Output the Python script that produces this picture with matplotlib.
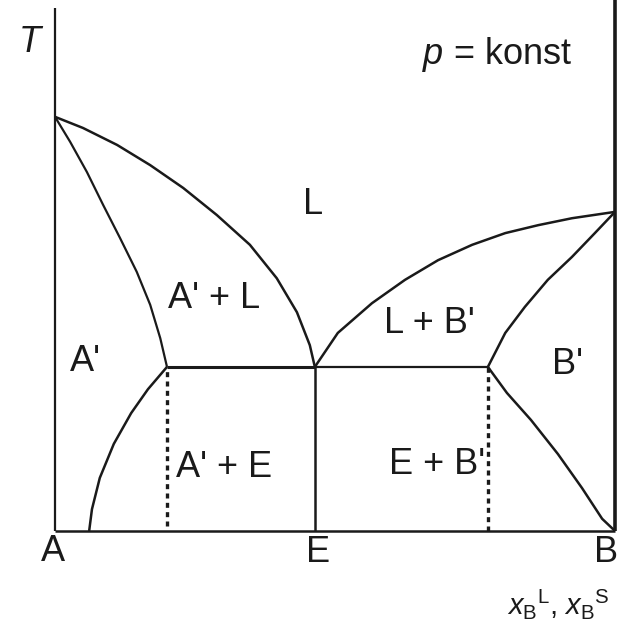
import matplotlib
matplotlib.use("Agg")
import matplotlib.pyplot as plt

plt.rcParams['font.family'] = ['Liberation Sans', 'DejaVu Sans']
plt.rcParams['mathtext.fontset'] = 'custom'
plt.rcParams['mathtext.rm'] = 'Liberation Sans'
plt.rcParams['mathtext.it'] = 'Liberation Sans:italic'

# composition x_B (0 = A, 1 = B) and temperature T (arbitrary units)
T_eut = 30.9
x_eut = 0.464
x_a_eut = 0.200   # A' solid solution limit at eutectic
x_b_eut = 0.773   # B' solid solution limit at eutectic

liq_left_x = [0.0, 0.050, 0.111, 0.170, 0.229, 0.289, 0.348, 0.396, 0.432, 0.455, 0.464]
liq_left_T = [78.0, 75.9, 72.7, 68.9, 64.6, 59.5, 53.9, 47.6, 41.2, 35.0, 30.9]

sol_left_x = [0.0, 0.027, 0.057, 0.086, 0.116, 0.146, 0.170, 0.188, 0.200]
sol_left_T = [78.0, 73.3, 67.6, 61.4, 55.2, 48.8, 42.6, 36.3, 30.9]

solv_left_x = [0.200, 0.166, 0.136, 0.105, 0.080, 0.066, 0.061]
solv_left_T = [30.9, 26.7, 22.2, 16.4, 10.0, 4.1, 0.0]

liq_right_x = [0.464, 0.505, 0.566, 0.625, 0.684, 0.745, 0.804, 0.863, 0.923, 1.0]
liq_right_T = [30.9, 37.3, 42.9, 47.3, 51.0, 53.9, 56.1, 57.6, 58.9, 60.1]

sol_right_x = [0.773, 0.804, 0.839, 0.880, 0.923, 0.964, 1.0]
sol_right_T = [30.9, 37.3, 42.2, 47.3, 51.6, 56.1, 60.1]

solv_right_x = [0.773, 0.807, 0.850, 0.898, 0.941, 0.977, 1.0]
solv_right_T = [30.9, 26.0, 20.9, 14.5, 8.1, 2.3, 0.0]

fig = plt.figure(figsize=(6.2, 6.21), dpi=100)
ax = fig.add_axes([0, 0, 1, 1])
ax.set_xlim(-0.0982, 1.0089)
ax.set_ylim(-16.95, 100)
ax.axis('off')

k = dict(color='#1a1a1a', solid_capstyle='butt', solid_joinstyle='round')

# frame
ax.plot([0, 0], [0, 98.5], lw=1.6, **k)
ax.plot([1, 1], [0, 100], lw=2.6, **k)
ax.plot([0, 1], [0, 0], lw=1.8, **k)

# phase boundaries
ax.plot(liq_left_x, liq_left_T, lw=1.8, **k)
ax.plot(sol_left_x, sol_left_T, lw=1.6, **k)
ax.plot(solv_left_x, solv_left_T, lw=1.8, **k)
ax.plot(liq_right_x, liq_right_T, lw=1.8, **k)
ax.plot(sol_right_x, sol_right_T, lw=1.8, **k)
ax.plot(solv_right_x, solv_right_T, lw=1.8, **k)

# eutectic line
ax.plot([x_a_eut, x_eut], [T_eut, T_eut], lw=2.2, **k)
ax.plot([x_eut, x_b_eut], [T_eut, T_eut], lw=1.6, **k)
ax.plot([x_eut, x_eut], [0, T_eut], lw=1.8, **k)

# dotted lines
ax.plot([x_a_eut, x_a_eut], [1, T_eut], lw=2.4, color='#1a1a1a',
        linestyle=(0, (1.5, 1.3)), dash_capstyle='butt')
ax.plot([x_b_eut, x_b_eut], [0, T_eut], lw=2.4, color='#1a1a1a',
        linestyle=(0, (1.5, 1.3)), dash_capstyle='butt')

fs = 26
tk = dict(fontsize=fs, color='#1a1a1a', ha='center', va='center')
ax.text(-0.045, 92.0, 'T', style='italic', **tk)
ax.text(0.790, 89.7, r'$p$ = konst', **tk)
ax.text(0.461, 61.4, 'L', **tk)
ax.text(0.284, 43.7, "A' + L", **tk)
ax.text(0.054, 32.0, "A'", **tk)
ax.text(0.668, 39.0, "L + B'", **tk)
ax.text(0.916, 31.4, "B'", **tk)
ax.text(0.302, 12.0, "A' + E", **tk)
ax.text(0.682, 12.6, "E + B'", **tk)
ax.text(-0.004, -3.8, 'A', **tk)
ax.text(0.470, -4.1, 'E', **tk)
ax.text(1.006, -4.1, 'B', fontsize=fs, color='#1a1a1a', ha='right', va='center')
ax.text(0.99, -13.8, r'$x_{\mathrm{B}}{}^{\mathrm{L}}$, $x_{\mathrm{B}}{}^{\mathrm{S}}$',
        fontsize=21, color='#1a1a1a', ha='right', va='center')

fig.savefig('out.png', dpi=100)
